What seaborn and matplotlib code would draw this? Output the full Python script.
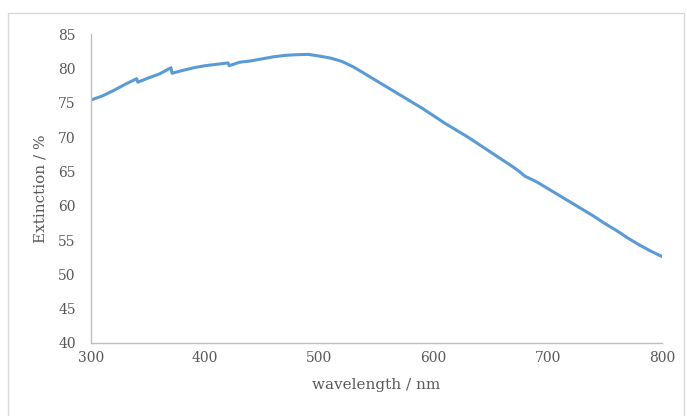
import numpy as np
import pandas as pd
import seaborn as sns
from matplotlib import pyplot as plt
from matplotlib.patches import Rectangle

# values (steps at 340, 370, 420 nm)
wavelength = [300, 310, 320, 330, 340, 341, 350, 360, 370, 371, 380, 390, 400, 410,
              420, 421, 430, 440, 450, 460, 470, 480, 490, 500, 510, 520, 530, 540,
              550, 560, 570, 580, 590, 600, 610, 620, 630, 640, 650, 660, 670, 675,
              680, 690, 700, 710, 720, 730, 740, 750, 760, 770, 780, 790, 800]
extinction = [75.4, 76.0, 76.8, 77.7, 78.5, 78.0, 78.6, 79.2, 80.1, 79.3, 79.7, 80.1, 80.4, 80.6,
              80.8, 80.4, 80.9, 81.1, 81.4, 81.7, 81.9, 82.0, 82.05, 81.8, 81.5, 81.0, 80.2, 79.2,
              78.2, 77.2, 76.2, 75.2, 74.2, 73.1, 72.0, 71.0, 70.0, 68.9, 67.8, 66.7, 65.6, 65.0,
              64.3, 63.5, 62.5, 61.5, 60.5, 59.5, 58.5, 57.4, 56.4, 55.3, 54.3, 53.4, 52.6]

x_ticks = [300, 400, 500, 600, 700, 800]
y_ticks = [40, 45, 50, 55, 60, 65, 70, 75, 80, 85]

df = pd.DataFrame({'wavelength': wavelength, 'extinction': extinction})

sns.set_style('white')
plt.rcParams['font.family'] = ['DejaVu Serif']

fig = plt.figure(figsize=(6.87, 4.16), dpi=100)
ax = fig.add_axes([0.1325, 0.1755, 0.8311, 0.7425])

sns.lineplot(data=df, x='wavelength', y='extinction', ax=ax, color='#5B9BD5', linewidth=2.2)

ax.set_xlim(300, 800)
ax.set_ylim(40, 85)
ax.set_xticks(x_ticks)
ax.set_yticks(y_ticks)
ax.tick_params(axis='x', length=0, labelsize=10, labelcolor='#595959', pad=6)
ax.tick_params(axis='y', length=0, labelsize=10, labelcolor='#595959', pad=11)
ax.set_xlabel('wavelength / nm', fontsize=11, color='#595959', labelpad=9)
ax.set_ylabel('Extinction / %', fontsize=11, color='#595959', labelpad=8)

for s in ['top', 'right']:
    ax.spines[s].set_visible(False)
for s in ['left', 'bottom']:
    ax.spines[s].set_color('#bfbfbf')
    ax.spines[s].set_linewidth(1)

# chart area border
fig.patches.append(Rectangle((8 / 687, -0.05), 676 / 687, 1.05 - 13 / 416,
                             transform=fig.transFigure, fill=False,
                             edgecolor='#d9d9d9', linewidth=1))

fig.savefig('out.png', dpi=100)
